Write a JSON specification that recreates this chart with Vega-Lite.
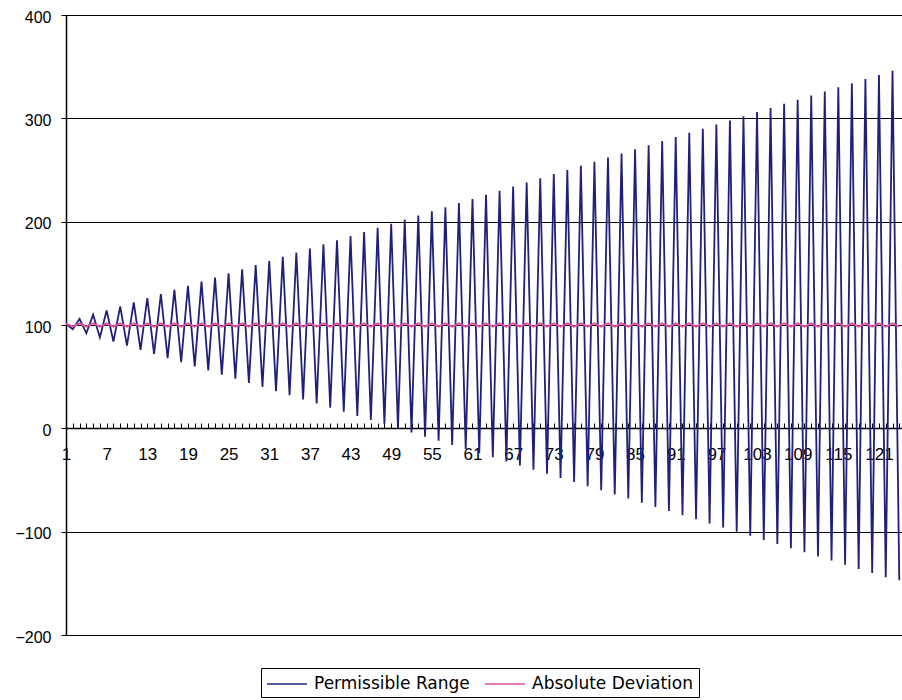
{
  "$schema": "https://vega.github.io/schema/vega-lite/v6.json",
  "width": 836,
  "height": 620,
  "autosize": "none",
  "padding": {"left": 66, "top": 15, "right": 0, "bottom": 65},
  "background": "white",
  "config": {
    "view": {"stroke": null},
    "axisY": {
      "grid": true,
      "gridColor": "black",
      "gridWidth": 1,
      "domainColor": "black",
      "domainWidth": 1.5,
      "tickColor": "black",
      "tickSize": 5,
      "labelFont": "Liberation Sans",
      "labelFontSize": 16,
      "labelColor": "black",
      "labelPadding": 10,
      "labelOffset": 2
    }
  },
  "data": {"values": [
    {"n":1,"pr":101,"ad":101.5},{"n":2,"pr":96,"ad":98.5},{"n":3,"pr":106,"ad":101.5},{"n":4,"pr":92,"ad":98.5},
    {"n":5,"pr":110,"ad":101.5},{"n":6,"pr":88,"ad":98.5},{"n":7,"pr":114,"ad":101.5},{"n":8,"pr":84,"ad":98.5},
    {"n":9,"pr":118,"ad":101.5},{"n":10,"pr":80,"ad":98.5},{"n":11,"pr":122,"ad":101.5},{"n":12,"pr":76,"ad":98.5},
    {"n":13,"pr":126,"ad":101.5},{"n":14,"pr":72,"ad":98.5},{"n":15,"pr":130,"ad":101.5},{"n":16,"pr":68,"ad":98.5},
    {"n":17,"pr":134,"ad":101.5},{"n":18,"pr":64,"ad":98.5},{"n":19,"pr":138,"ad":101.5},{"n":20,"pr":60,"ad":98.5},
    {"n":21,"pr":142,"ad":101.5},{"n":22,"pr":56,"ad":98.5},{"n":23,"pr":146,"ad":101.5},{"n":24,"pr":52,"ad":98.5},
    {"n":25,"pr":150,"ad":101.5},{"n":26,"pr":48,"ad":98.5},{"n":27,"pr":154,"ad":101.5},{"n":28,"pr":44,"ad":98.5},
    {"n":29,"pr":158,"ad":101.5},{"n":30,"pr":40,"ad":98.5},{"n":31,"pr":162,"ad":101.5},{"n":32,"pr":36,"ad":98.5},
    {"n":33,"pr":166,"ad":101.5},{"n":34,"pr":32,"ad":98.5},{"n":35,"pr":170,"ad":101.5},{"n":36,"pr":28,"ad":98.5},
    {"n":37,"pr":174,"ad":101.5},{"n":38,"pr":24,"ad":98.5},{"n":39,"pr":178,"ad":101.5},{"n":40,"pr":20,"ad":98.5},
    {"n":41,"pr":182,"ad":101.5},{"n":42,"pr":16,"ad":98.5},{"n":43,"pr":186,"ad":101.5},{"n":44,"pr":12,"ad":98.5},
    {"n":45,"pr":190,"ad":101.5},{"n":46,"pr":8,"ad":98.5},{"n":47,"pr":194,"ad":101.5},{"n":48,"pr":4,"ad":98.5},
    {"n":49,"pr":198,"ad":101.5},{"n":50,"pr":0,"ad":98.5},{"n":51,"pr":202,"ad":101.5},{"n":52,"pr":-4,"ad":98.5},
    {"n":53,"pr":206,"ad":101.5},{"n":54,"pr":-8,"ad":98.5},{"n":55,"pr":210,"ad":101.5},{"n":56,"pr":-12,"ad":98.5},
    {"n":57,"pr":214,"ad":101.5},{"n":58,"pr":-16,"ad":98.5},{"n":59,"pr":218,"ad":101.5},{"n":60,"pr":-20,"ad":98.5},
    {"n":61,"pr":222,"ad":101.5},{"n":62,"pr":-24,"ad":98.5},{"n":63,"pr":226,"ad":101.5},{"n":64,"pr":-28,"ad":98.5},
    {"n":65,"pr":230,"ad":101.5},{"n":66,"pr":-32,"ad":98.5},{"n":67,"pr":234,"ad":101.5},{"n":68,"pr":-36,"ad":98.5},
    {"n":69,"pr":238,"ad":101.5},{"n":70,"pr":-40,"ad":98.5},{"n":71,"pr":242,"ad":101.5},{"n":72,"pr":-44,"ad":98.5},
    {"n":73,"pr":246,"ad":101.5},{"n":74,"pr":-48,"ad":98.5},{"n":75,"pr":250,"ad":101.5},{"n":76,"pr":-52,"ad":98.5},
    {"n":77,"pr":254,"ad":101.5},{"n":78,"pr":-56,"ad":98.5},{"n":79,"pr":258,"ad":101.5},{"n":80,"pr":-60,"ad":98.5},
    {"n":81,"pr":262,"ad":101.5},{"n":82,"pr":-64,"ad":98.5},{"n":83,"pr":266,"ad":101.5},{"n":84,"pr":-68,"ad":98.5},
    {"n":85,"pr":270,"ad":101.5},{"n":86,"pr":-72,"ad":98.5},{"n":87,"pr":274,"ad":101.5},{"n":88,"pr":-76,"ad":98.5},
    {"n":89,"pr":278,"ad":101.5},{"n":90,"pr":-80,"ad":98.5},{"n":91,"pr":282,"ad":101.5},{"n":92,"pr":-84,"ad":98.5},
    {"n":93,"pr":286,"ad":101.5},{"n":94,"pr":-88,"ad":98.5},{"n":95,"pr":290,"ad":101.5},{"n":96,"pr":-92,"ad":98.5},
    {"n":97,"pr":294,"ad":101.5},{"n":98,"pr":-96,"ad":98.5},{"n":99,"pr":298,"ad":101.5},{"n":100,"pr":-100,"ad":98.5},
    {"n":101,"pr":302,"ad":101.5},{"n":102,"pr":-104,"ad":98.5},{"n":103,"pr":306,"ad":101.5},{"n":104,"pr":-108,"ad":98.5},
    {"n":105,"pr":310,"ad":101.5},{"n":106,"pr":-112,"ad":98.5},{"n":107,"pr":314,"ad":101.5},{"n":108,"pr":-116,"ad":98.5},
    {"n":109,"pr":318,"ad":101.5},{"n":110,"pr":-120,"ad":98.5},{"n":111,"pr":322,"ad":101.5},{"n":112,"pr":-124,"ad":98.5},
    {"n":113,"pr":326,"ad":101.5},{"n":114,"pr":-128,"ad":98.5},{"n":115,"pr":330,"ad":101.5},{"n":116,"pr":-132,"ad":98.5},
    {"n":117,"pr":334,"ad":101.5},{"n":118,"pr":-136,"ad":98.5},{"n":119,"pr":338,"ad":101.5},{"n":120,"pr":-140,"ad":98.5},
    {"n":121,"pr":342,"ad":101.5},{"n":122,"pr":-144,"ad":98.5},{"n":123,"pr":346,"ad":101.5},{"n":124,"pr":-147,"ad":98.5}
  ]},
  "encoding": {
    "x": {
      "field": "n", "type": "quantitative",
      "scale": {"domain": [1, 124.4], "nice": false, "zero": false},
      "axis": {
        "title": null,
        "values": [1,2,3,4,5,6,7,8,9,10,11,12,13,14,15,16,17,18,19,20,21,22,23,24,25,26,27,28,29,30,31,32,33,34,35,36,37,38,39,40,41,42,43,44,45,46,47,48,49,50,51,52,53,54,55,56,57,58,59,60,61,62,63,64,65,66,67,68,69,70,71,72,73,74,75,76,77,78,79,80,81,82,83,84,85,86,87,88,89,90,91,92,93,94,95,96,97,98,99,100,101,102,103,104,105,106,107,108,109,110,111,112,113,114,115,116,117,118,119,120,121,122,123,124],
        "labelExpr": "(datum.value - 1) % 6 == 0 ? datum.label : ''",
        "offset": -207,
        "tickSize": -5,
        "tickColor": "black",
        "tickWidth": 1,
        "domainColor": "black",
        "domainWidth": 1.5,
        "grid": false,
        "labelPadding": 23,
        "labelBaseline": "top",
        "labelAngle": 0,
        "labelFont": "Liberation Sans",
        "labelFontSize": 17,
        "labelColor": "black",
        "labelOverlap": false,
        "labelFlush": false,
        "labelBound": false
      }
    }
  },
  "layer": [
    {
      "mark": {"type": "line", "strokeWidth": 1.8, "clip": true},
      "encoding": {
        "y": {
          "field": "pr", "type": "quantitative",
          "scale": {"domain": [-200, 400], "nice": false},
          "axis": {"title": null, "values": [-200, -100, 0, 100, 200, 300, 400]}
        },
        "color": {
          "datum": "Permissible Range", "type": "nominal",
          "scale": {"domain": ["Permissible Range", "Absolute Deviation"], "range": ["#20207a", "#e0509c"]},
          "legend": {
            "title": null,
            "orient": "none",
            "legendX": 195,
            "legendY": 653,
            "direction": "horizontal",
            "strokeColor": "black",
            "fillColor": "white",
            "padding": 5,
            "symbolType": "M-1,0H3",
            "symbolSize": 400,
            "symbolStrokeWidth": 1.5,
            "labelFont": "DejaVu Sans",
            "labelFontSize": 17,
            "labelColor": "black",
            "labelLimit": 400,
            "labelOffset": 26,
            "columnPadding": 12
          }
        }
      }
    },
    {
      "mark": {"type": "line", "strokeWidth": 2, "clip": true},
      "encoding": {
        "y": {"field": "ad", "type": "quantitative", "axis": {"title": null, "values": [-200, -100, 0, 100, 200, 300, 400]}},
        "color": {"datum": "Absolute Deviation", "type": "nominal"}
      }
    }
  ]
}
